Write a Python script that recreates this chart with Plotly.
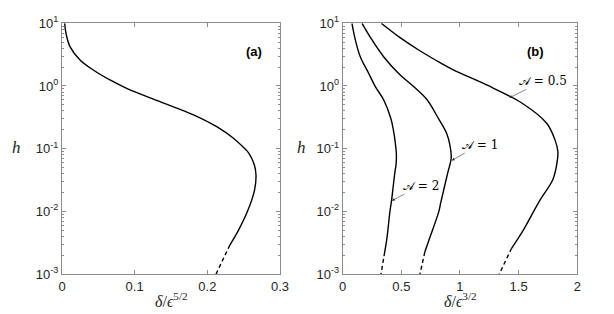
import numpy as np
import plotly.graph_objects as go

# ---- data; heights are given as log10(h) ----
# panel (a)
a_x = [0.0037, 0.0055, 0.011, 0.0248, 0.043, 0.066, 0.089, 0.135, 0.181, 0.213, 0.236, 0.251, 0.257, 0.2645, 0.267, 0.265, 0.256, 0.243, 0.231]
a_logh = [1.0, 0.84, 0.627, 0.415, 0.255, 0.096, -0.037, -0.25, -0.46, -0.65, -0.835, -0.995, -1.07, -1.25, -1.42, -1.66, -1.98, -2.30, -2.54]
a_dash_x = [0.231, 0.212]
a_dash_logh = [-2.54, -3.0]

# panel (b): A = 2
b2_x = [0.079, 0.108, 0.150, 0.222, 0.278, 0.349, 0.41, 0.432, 0.448, 0.458, 0.455, 0.444, 0.417, 0.403, 0.375, 0.358]
b2_logh = [1.0, 0.734, 0.467, 0.20, -0.01, -0.22, -0.515, -0.70, -0.90, -1.10, -1.25, -1.39, -1.82, -2.0, -2.46, -2.65]
b2_dash_x = [0.358, 0.327]
b2_dash_logh = [-2.65, -3.0]

# panel (b): A = 1
b1_x = [0.165, 0.25, 0.349, 0.477, 0.605, 0.719, 0.815, 0.886, 0.915, 0.925, 0.895, 0.835, 0.82, 0.735, 0.70]
b1_logh = [1.0, 0.734, 0.467, 0.20, -0.01, -0.22, -0.515, -0.755, -0.95, -1.15, -1.39, -1.87, -2.0, -2.46, -2.65]
b1_dash_x = [0.70, 0.659]
b1_dash_logh = [-2.65, -3.0]

# panel (b): A = 0.5
b05_x = [0.329, 0.477, 0.648, 0.841, 0.943, 1.228, 1.53, 1.739, 1.81, 1.835, 1.825, 1.79, 1.682, 1.54, 1.44]
b05_logh = [1.0, 0.787, 0.574, 0.36, 0.255, 0.016, -0.276, -0.595, -0.86, -1.05, -1.25, -1.50, -1.82, -2.30, -2.59]
b05_dash_x = [1.44, 1.335]
b05_dash_logh = [-2.59, -3.0]

labels = ["𝒜 = 0.5", "𝒜 = 1", "𝒜 = 2"]
label_x = [1.42, 0.929, 0.419]
label_logh = [-0.19, -1.19, -1.83]
label_ax = [34, 28, 29]
label_ay = [-17, -16, -15]

y_tickvals = [1e-3, 1e-2, 1e-1, 1e0, 1e1]
y_ticktext = ["10<sup>-3</sup>", "10<sup>-2</sup>", "10<sup>-1</sup>", "10<sup>0</sup>", "10<sup>1</sup>"]

x_title_a = "<i>δ</i>/<i>ϵ</i><sup>5/2</sup>"
x_title_b = "<i>δ</i>/<i>ϵ</i><sup>3/2</sup>"


def h(vals):
    return list(10.0 ** np.array(vals))


fig = go.Figure()
line = dict(color="black", width=1.4)
dline = dict(color="black", width=1.4, dash="4px,3px")

fig.add_trace(go.Scatter(x=a_x, y=h(a_logh), mode="lines", line=line, line_shape="spline", xaxis="x", yaxis="y"))
fig.add_trace(go.Scatter(x=a_dash_x, y=h(a_dash_logh), mode="lines", line=dline, xaxis="x", yaxis="y"))
for xs, ls, dx, dl in [(b2_x, b2_logh, b2_dash_x, b2_dash_logh),
                       (b1_x, b1_logh, b1_dash_x, b1_dash_logh),
                       (b05_x, b05_logh, b05_dash_x, b05_dash_logh)]:
    fig.add_trace(go.Scatter(x=xs, y=h(ls), mode="lines", line=line, line_shape="spline", xaxis="x2", yaxis="y2"))
    fig.add_trace(go.Scatter(x=dx, y=h(dl), mode="lines", line=dline, xaxis="x2", yaxis="y2"))

axcol = "#8c8c8c"
tickfont = dict(family="Liberation Sans, Arial, sans-serif", size=13, color="#262626")
serif = "Liberation Serif, DejaVu Serif, serif"
minor_vals = [m * 10.0 ** e for e in range(-3, 1) for m in range(2, 10)]


def xax(dom, rng, dtick, anchor):
    return dict(domain=dom, range=rng, dtick=dtick, tick0=0, showgrid=False, zeroline=False,
                showline=True, linecolor=axcol, linewidth=1, mirror="ticks", ticks="inside",
                ticklen=4, tickcolor=axcol, tickfont=tickfont, anchor=anchor, automargin=False)


def yax(dom, anchor):
    return dict(domain=dom, type="log", range=[-3, 1], tickmode="array", tickvals=y_tickvals,
                ticktext=y_ticktext, showgrid=False, zeroline=False, showline=True, linecolor=axcol,
                linewidth=1, mirror="ticks", ticks="inside", ticklen=4, tickcolor=axcol,
                tickfont=tickfont, anchor=anchor, automargin=False,
                minor=dict(ticks="inside", ticklen=2, tickcolor=axcol, showgrid=False,
                           tickmode="array", tickvals=minor_vals))


# the page body has an 8px margin, so the figure is 606x306 and offset by 8px
ydom = [0.1307, 0.950]
fig.update_layout(
    width=606, height=306, margin=dict(l=0, r=0, t=0, b=0, autoexpand=False),
    paper_bgcolor="white", plot_bgcolor="white", showlegend=False,
    xaxis=xax([0.0891, 0.4488], [0, 0.3], 0.1, "y"),
    yaxis=yax(ydom, "x"),
    xaxis2=xax([0.5523, 0.9394], [0, 2], 0.5, "y2"),
    yaxis2=yax(ydom, "x2"),
)

# axis titles
for xt, xc in [(x_title_a, 0.269), (x_title_b, 0.746)]:
    fig.add_annotation(text=xt, x=xc, y=0.046, xref="paper", yref="paper", showarrow=False,
                       xanchor="center", yanchor="middle", font=dict(family=serif, size=16, color="#262626"))
for yc in [0.0145, 0.485]:
    fig.add_annotation(text="<i>h</i>", x=yc, y=0.545, xref="paper", yref="paper", showarrow=False,
                       xanchor="center", yanchor="middle", font=dict(family=serif, size=17, color="#262626"))

fig.add_annotation(text="<b>(a)</b>", x=0.926, y=0.925, xref="x domain", yref="y domain", showarrow=False,
                   font=dict(family="Liberation Sans, Arial, sans-serif", size=13, color="black"))
fig.add_annotation(text="<b>(b)</b>", x=0.868, y=0.925, xref="x2 domain", yref="y2 domain", showarrow=False,
                   font=dict(family="Liberation Sans, Arial, sans-serif", size=13, color="black"))

for t, lx, ll, ax, ay in zip(labels, label_x, label_logh, label_ax, label_ay):
    fig.add_annotation(text=t, x=lx, y=ll, xref="x2", yref="y2",
                       showarrow=True, ax=ax, ay=ay, arrowhead=2, arrowsize=1, arrowwidth=0.6,
                       arrowcolor="#333333", standoff=0, startstandoff=0,
                       font=dict(family="DejaVu Serif, Liberation Serif, serif", size=12, color="black"))

fig.write_html("out.html")
